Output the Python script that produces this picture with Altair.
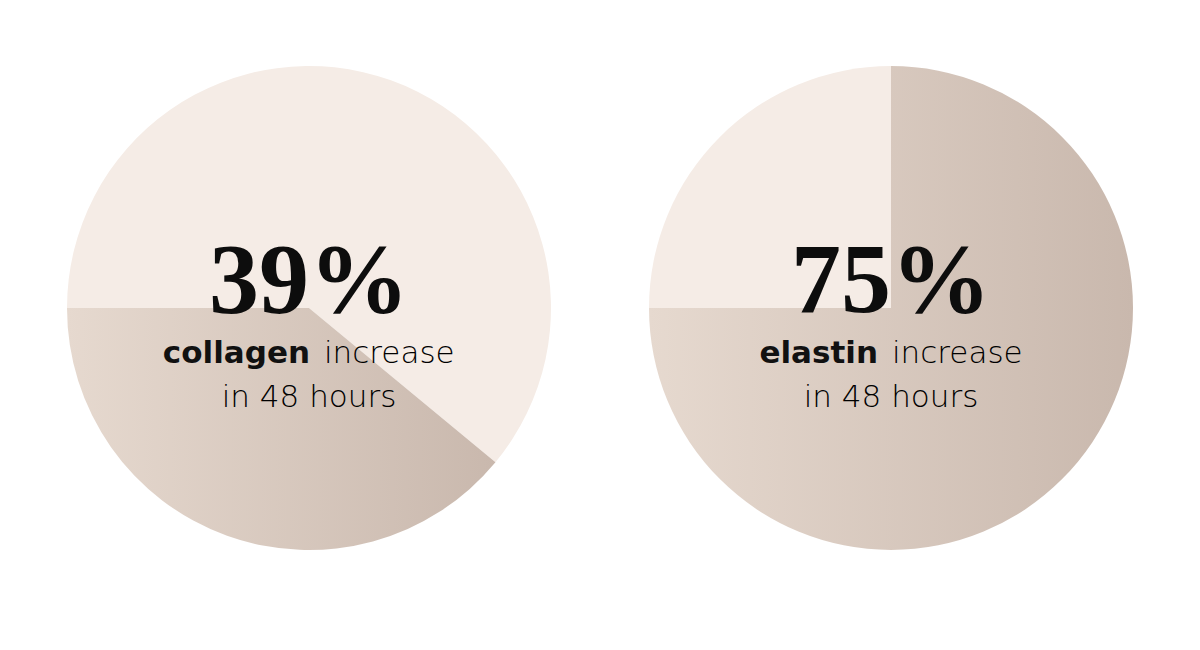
import math
import altair as alt
import pandas as pd

# ---- data ----
metrics = ["collagen", "elastin"]
percents = [39, 75]
big_labels = ["39%", "75%"]
suffix_word = "increase"
second_line = "in 48 hours"

LIGHT = "#f5ece6"
gradient = {
    "gradient": "linear",
    "x1": 0, "y1": 0, "x2": 1, "y2": 0,
    "stops": [
        {"offset": 0, "color": "#e6d9cf"},
        {"offset": 1, "color": "#c9b8ad"},
    ],
}

W, H = 582, 600
CX = W / 2
R = 242
start = 3 * math.pi / 2
FS = 31

# approximate split positions so each mixed line stays centred
split = {"collagen": (292, 306), "elastin": (278, 292)}


def pie_panel(metric, pct, big):
    df = pd.DataFrame({
        "part": ["rest", "increase"],
        "value": [100 - pct, pct],
        "order": [0, 1],
    })
    arcs = alt.Chart(df).mark_arc(radius=R, strokeWidth=0).encode(
        theta=alt.Theta("value:Q", stack=True,
                        scale=alt.Scale(range=[start, start + 2 * math.pi])),
        order=alt.Order("order:Q"),
        fill=alt.condition("datum.part == 'increase'",
                           alt.value(gradient), alt.value(LIGHT)),
    )
    tdf = pd.DataFrame({"big": [big], "metric": [metric],
                        "word": [suffix_word], "line2": [second_line]})
    base = alt.Chart(tdf)
    big_t = base.mark_text(font="Liberation Serif", fontWeight="bold",
                           fontSize=100, color="#0d0d0d", align="center",
                           baseline="alphabetic").encode(
        text="big:N", x=alt.value(CX), y=alt.value(304))
    bx, rx = split[metric]
    bold_t = base.mark_text(font="DejaVu Sans", fontWeight="bold",
                            fontSize=FS, color="#111111", align="right",
                            baseline="alphabetic").encode(
        text="metric:N", x=alt.value(bx), y=alt.value(355))
    reg_t = base.mark_text(font="DejaVu Sans", fontWeight=200,
                           fontSize=FS, color="#000000", align="left",
                           baseline="alphabetic").encode(
        text="word:N", x=alt.value(rx), y=alt.value(355))
    line2_t = base.mark_text(font="DejaVu Sans", fontWeight=200,
                             fontSize=FS, color="#000000", align="center",
                             baseline="alphabetic").encode(
        text="line2:N", x=alt.value(CX), y=alt.value(399))
    return alt.layer(arcs, big_t, bold_t, reg_t, line2_t).properties(
        width=W, height=H)


panels = [pie_panel(m, p, b) for m, p, b in zip(metrics, percents, big_labels)]

chart = alt.hconcat(*panels, spacing=0).properties(
    padding={"left": 10, "top": 0, "right": 0, "bottom": 0},
    background="white",
).configure_view(strokeWidth=0)

chart.save("out.html", embed_options={"renderer": "svg", "actions": False})
